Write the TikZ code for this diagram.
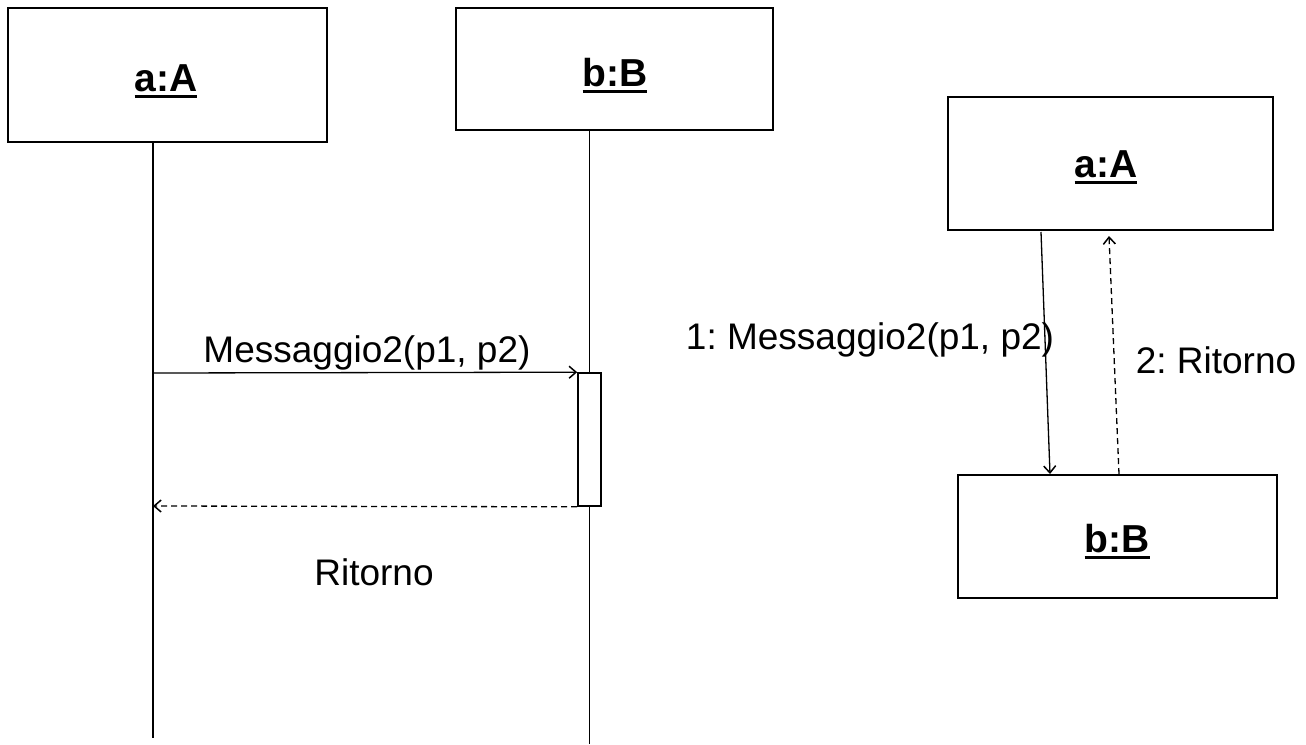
\documentclass[tikz,border=0pt]{standalone}
\usepackage{fontspec}
\setmainfont{Liberation Sans}
\usepackage{tikz}
\usetikzlibrary{arrows.meta,positioning}
\frenchspacing
\newcommand{\objname}[1]{\setbox0=\hbox{#1}\copy0\llap{\rule[-7pt]{\wd0}{2.6pt}}}
\tikzset{
  obj/.style  = {draw=black, line width=1.6pt, inner sep=0pt},
  objlbl/.style = {anchor=base, inner sep=0pt,
                 font=\fontsize{39}{44}\selectfont\bfseries},
  act/.style  = {draw=black, line width=1.6pt, inner sep=0pt,
                 minimum width=23pt, minimum height=133pt},
  life/.style = {line width=1.4pt},
  ar/.style   = {-{Straight Barb[length=7pt,width=12pt,line width=1.5pt]}, line width=1.3pt},
  ret/.style  = {-{Straight Barb[length=7pt,width=12pt,line width=1.5pt]}, line width=1.3pt,
                 dash pattern=on 6pt off 4pt},
  lbl/.style  = {font=\fontsize{37}{44}\selectfont, inner sep=0pt},
}

\begin{document}
\begin{tikzpicture}[x=1pt, y=-1pt]
  \useasboundingbox (0,0) rectangle (1306,744);
  % sequence diagram
  \node[obj, minimum width=319pt, minimum height=134pt] (aA) at (167.5,75) {};
  \node[obj, minimum width=317pt, minimum height=122pt] (bB) at (614.5,69) {};
  \node[objlbl] (aAname) at (166,91) {\objname{a:A}};
  \node[objlbl] (bBname) at (615,86) {\objname{b:B}};
  \node[act] (act) at (589.5,439.5) {};
  \coordinate (aEnd) at (153,738);
  \coordinate (bEnd) at (589.5,744);
  \coordinate (aMsg) at (153,373);
  \coordinate (aRet) at (153,506);
  \draw[life] (aA.south -| aEnd) -- (aEnd);
  \draw[life] (bB.south -| act.north) -- (act.north);
  \draw[life] (act.south) -- (bEnd);
  \draw[ar] (aMsg) -- (act.north west);
  \draw[ret] (act.south west) -- (aRet);
  \node[lbl] (msg) at (367,353) {Messaggio2(p1, p2)};
  \node[lbl] (rit) at (374,572) {Ritorno};
  % collaboration diagram
  \node[obj, minimum width=325pt, minimum height=133pt] (aA2) at (1110.5,163.5) {};
  \node[obj, minimum width=319pt, minimum height=123pt] (bB2) at (1117.5,536.5) {};
  \node[objlbl] (aA2name) at (1106,177) {\objname{a:A}};
  \node[objlbl] (bB2name) at (1117,552) {\objname{b:B}};
  \coordinate (c1) at (1041,232);
  \coordinate (c2) at (1050,474);
  \coordinate (c3) at (1119,474);
  \coordinate (c4) at (1109,236);
  \draw[ar] (c1) -- (c2);
  \draw[ret] (c3) -- (c4);
  \node[lbl] (msg2) at (870,340) {1: Messaggio2(p1, p2)};
  \node[lbl] (rit2) at (1216,360) {2: Ritorno};
\end{tikzpicture}
\end{document}
